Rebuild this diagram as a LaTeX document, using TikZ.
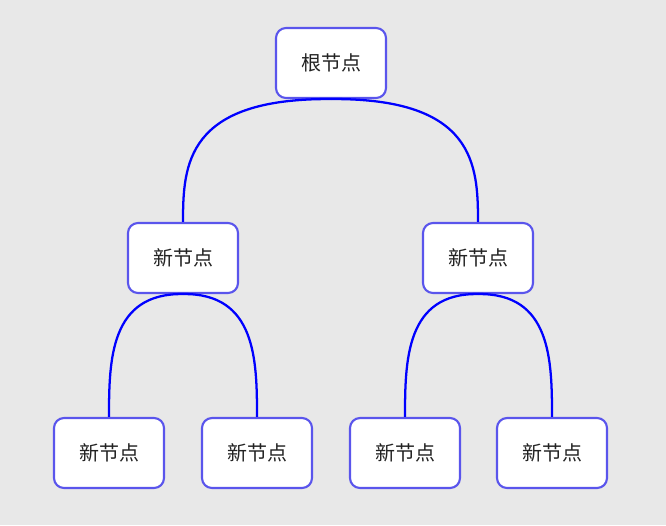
\documentclass[tikz,border=0pt]{standalone}
\usepackage{fontspec}
\newfontfamily\cjk{Noto Sans CJK SC}
\definecolor{bg}{HTML}{E8E8E8}
\definecolor{boxline}{HTML}{5A55EC}
\definecolor{link}{HTML}{0000FF}
\definecolor{txt}{HTML}{222222}
\begin{document}
\begin{tikzpicture}[x=0.75pt,y=-0.75pt,
  treenode/.style={draw=boxline,line width=1.6pt,fill=white,rounded corners=7.5pt,
    minimum width=82.5pt,minimum height=52.5pt,inner sep=0pt,
    font=\cjk\fontsize{15pt}{17pt}\selectfont,text=txt},
  edge/.style={draw=link,line width=1.7pt}]
\fill[bg] (0,0) rectangle (666,525);
\useasboundingbox (0,0) rectangle (666,525);
\node[treenode] (r) at (331,63) {根节点};
\node[treenode] (a) at (183,258) {新节点};
\node[treenode] (b) at (478,258) {新节点};
\node[treenode] (a1) at (109,453) {新节点};
\node[treenode] (a2) at (257,453) {新节点};
\node[treenode] (b1) at (405,453) {新节点};
\node[treenode] (b2) at (552,453) {新节点};
\path[edge] (r.south) .. controls (186,98) and (183,165) .. (a.north);
\path[edge] (r.south) .. controls (475,98) and (478,165) .. (b.north);
\path[edge] (a.south) .. controls (110,293) and (109,360) .. (a1.north);
\path[edge] (a.south) .. controls (256,293) and (257,360) .. (a2.north);
\path[edge] (b.south) .. controls (406,293) and (405,360) .. (b1.north);
\path[edge] (b.south) .. controls (551,293) and (552,360) .. (b2.north);
\end{tikzpicture}
\end{document}
